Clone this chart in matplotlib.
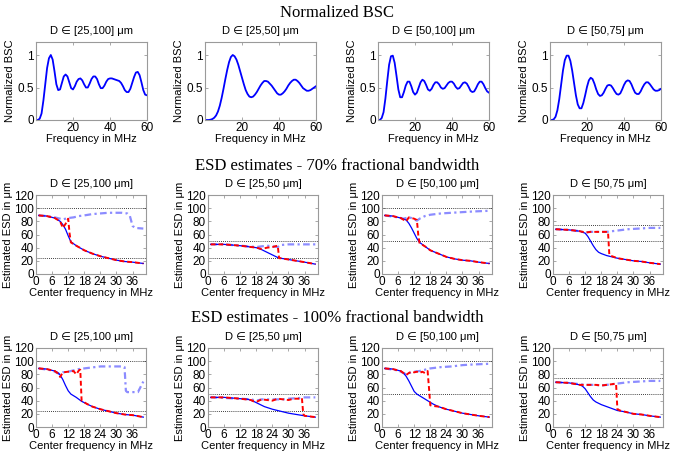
import matplotlib
matplotlib.use("Agg")
import matplotlib.pyplot as plt
import numpy as np

plt.rcParams['font.family'] = ['Liberation Sans', 'DejaVu Sans']
plt.rcParams['font.size'] = 8

# ---- Row 1: normalized BSC, 1 MHz steps ----
freq = list(range(0, 61))
bsc_25_100 = [0, 0, 0.02, 0.1, 0.3, 0.55, 0.8, 0.95, 1.0, 0.93, 0.75, 0.55, 0.46, 0.47, 0.57,
              0.67, 0.7, 0.67, 0.58, 0.49, 0.47, 0.52, 0.59, 0.63, 0.64, 0.61, 0.55, 0.5, 0.5,
              0.56, 0.63, 0.67, 0.67, 0.63, 0.55, 0.49, 0.49, 0.53, 0.59, 0.63, 0.64, 0.64, 0.63,
              0.62, 0.61, 0.6, 0.57, 0.52, 0.46, 0.43, 0.43, 0.48, 0.57, 0.66, 0.73, 0.74, 0.69,
              0.58, 0.46, 0.39, 0.38]
bsc_25_50 = [0, 0, 0, 0.005, 0.015, 0.035, 0.07, 0.13, 0.22, 0.34, 0.48, 0.63, 0.77, 0.89, 0.97,
             1.0, 0.98, 0.93, 0.85, 0.75, 0.65, 0.55, 0.46, 0.4, 0.36, 0.35, 0.36, 0.39, 0.43,
             0.48, 0.53, 0.57, 0.6, 0.6, 0.59, 0.56, 0.53, 0.49, 0.45, 0.41, 0.39, 0.39, 0.41,
             0.44, 0.48, 0.53, 0.57, 0.6, 0.62, 0.62, 0.6, 0.57, 0.53, 0.49, 0.47, 0.45, 0.45,
             0.46, 0.48, 0.5, 0.52]
bsc_50_100 = [0, 0, 0.03, 0.12, 0.33, 0.6, 0.85, 0.98, 0.99, 0.88, 0.68, 0.47, 0.35, 0.35, 0.43,
              0.53, 0.59, 0.59, 0.52, 0.43, 0.39, 0.42, 0.5, 0.58, 0.62, 0.6, 0.54, 0.47, 0.45,
              0.48, 0.54, 0.58, 0.58, 0.55, 0.5, 0.48, 0.49, 0.53, 0.57, 0.59, 0.59, 0.56, 0.51,
              0.48, 0.49, 0.53, 0.57, 0.58, 0.56, 0.51, 0.45, 0.43, 0.44, 0.49, 0.55, 0.59, 0.59,
              0.55, 0.49, 0.44, 0.42]
bsc_50_75 = [0, 0, 0.01, 0.05, 0.15, 0.32, 0.54, 0.76, 0.92, 0.99, 0.99, 0.91, 0.76, 0.57, 0.38,
             0.24, 0.18, 0.18, 0.26, 0.38, 0.51, 0.61, 0.65, 0.63, 0.56, 0.47, 0.4, 0.37, 0.38,
             0.42, 0.48, 0.53, 0.54, 0.53, 0.49, 0.44, 0.4, 0.39, 0.41, 0.47, 0.54, 0.59, 0.61,
             0.6, 0.55, 0.48, 0.42, 0.4, 0.4, 0.44, 0.5, 0.55, 0.58, 0.58, 0.55, 0.51, 0.47,
             0.45, 0.45, 0.46, 0.48]
bsc_curves = [bsc_25_100, bsc_25_50, bsc_50_100, bsc_50_75]
bsc_titles = ["D \u2208 [25,100] \u03bcm", "D \u2208 [25,50] \u03bcm",
              "D \u2208 [50,100] \u03bcm", "D \u2208 [50,75] \u03bcm"]

# ---- ESD panels ----
esd_titles = ["D \u2208 [25,100 \u03bcm]", "D \u2208 [25,50 \u03bcm]",
              "D \u2208 [50,100 \u03bcm]", "D \u2208 [50,75 \u03bcm]"]
true_bounds = [(25, 100), (25, 50), (50, 100), (50, 75)]

# 70% fractional bandwidth
b70_x = [[1, 4, 7, 9, 10, 11, 12, 13, 15, 18, 21, 24, 27, 30, 33, 36, 40],
         [1, 6, 12, 16, 18, 20, 22, 24, 26, 27, 30, 33, 36, 40],
         [1, 4, 7, 9, 10, 11, 12, 13, 14, 16, 18, 21, 24, 27, 30, 33, 36, 40],
         [1, 6, 10, 12, 13, 14, 15, 16, 17, 18, 20, 22, 24, 27, 30, 33, 36, 40]]
b70_y = [[89, 88, 85, 80, 75, 68, 58, 49, 43, 36, 31, 27, 24, 21, 19, 18, 16],
         [45, 45, 43, 41, 40, 37, 33, 29, 25, 24, 22, 20, 18, 15],
         [89, 88, 85, 82, 77, 70, 62, 54, 48, 42, 36, 31, 26, 23, 21, 20, 18, 16],
         [68, 67, 65, 62, 57, 50, 43, 37, 33, 31, 28, 26, 24, 22, 20, 19, 17, 15]]
p70_x = [[1, 4, 7, 9, 10, 11, 12, 14, 16, 18, 21, 24, 27, 30, 32, 34, 35, 36, 37, 40],
         [1, 6, 12, 18, 20, 22, 24, 26, 27, 30, 36, 40],
         [1, 6, 8, 9, 10, 11, 12, 13, 14, 16, 18, 22, 26, 30, 34, 40],
         [1, 6, 10, 12, 14, 16, 18, 20, 22, 24, 28, 32, 36, 40]]
p70_y = [[89, 88, 86, 84, 83, 84, 85, 86, 88, 89, 91, 92, 93, 93, 93, 92, 88, 73, 70, 69],
         [45, 45, 43, 41, 42, 43, 42, 41, 44, 45, 45, 45],
         [89, 86, 84, 85, 86, 85, 83, 81, 84, 88, 90, 92, 93, 94, 95, 96],
         [68, 67, 65, 63, 64, 64, 64, 64, 65, 66, 68, 69, 70, 70]]
r70_x = [[1, 4, 7, 9, 10, 11, 12, 12.5, 13, 15, 18, 21, 24, 27, 30, 33, 36, 40],
         [1, 6, 12, 16, 18, 20, 22, 24, 26, 26.5, 27, 30, 33, 36, 40],
         [1, 4, 7, 9, 10, 11, 12, 13, 13.5, 14, 16, 18, 21, 24, 27, 30, 33, 36, 40],
         [1, 6, 10, 12, 14, 16, 18, 20, 20.5, 21, 22, 24, 27, 30, 33, 36, 40]]
r70_y = [[89, 88, 85, 80, 70, 76, 84, 62, 48, 43, 36, 31, 27, 24, 21, 19, 18, 16],
         [45, 45, 43, 41, 40, 38, 40, 41, 43, 24, 24, 22, 20, 18, 15],
         [89, 88, 85, 80, 86, 85, 84, 82, 60, 47, 42, 36, 31, 26, 23, 21, 20, 18, 16],
         [68, 67, 65, 63, 64, 64, 64, 64, 64, 29, 27, 24, 22, 20, 19, 17, 15]]

# 100% fractional bandwidth
b100_x = [[1, 4, 7, 8, 9, 10, 11, 12, 13, 15, 17, 19, 21, 24, 27, 30, 33, 36, 40],
          [1, 6, 12, 15, 17, 19, 21, 24, 27, 30, 33, 36, 40],
          [1, 4, 7, 8, 9, 10, 11, 12, 13, 15, 17, 19, 21, 24, 27, 30, 33, 36, 40],
          [1, 6, 10, 11, 12, 13, 14, 15, 16, 18, 20, 22, 24, 27, 30, 33, 36, 40]]
b100_y = [[89, 88, 85, 83, 79, 72, 63, 55, 50, 45, 39, 35, 31, 27, 24, 21, 19, 18, 15],
          [45, 45, 43, 42, 39, 35, 31, 27, 24, 21, 19, 17, 15],
          [89, 88, 85, 82, 77, 70, 62, 54, 50, 45, 40, 35, 31, 27, 24, 21, 19, 17, 15],
          [68, 67, 64, 62, 58, 52, 46, 41, 38, 34, 31, 28, 25, 23, 20, 19, 17, 15]]
p100_x = [[1, 6, 8, 9, 10, 12, 14, 16, 20, 24, 28, 32, 33, 33.5, 34, 38, 40],
          [1, 12, 16, 18, 20, 24, 28, 30, 34, 36, 40],
          [1, 6, 8, 9, 10, 12, 14, 16, 18, 22, 26, 30, 34, 40],
          [1, 6, 10, 12, 14, 16, 18, 20, 22, 24, 28, 32, 36, 40]]
p100_y = [[89, 86, 82, 80, 83, 84, 86, 88, 90, 92, 92, 92, 91, 55, 53, 53, 69],
          [45, 43, 42, 40, 42, 42, 42, 43, 44, 45, 45],
          [89, 86, 82, 80, 82, 84, 85, 87, 89, 91, 92, 94, 95, 96],
          [68, 67, 65, 64, 64, 64, 63, 64, 65, 66, 68, 69, 70, 70]]
r100_x = [[1, 4, 7, 8, 9, 10, 12, 14, 15, 16, 16.5, 17, 19, 21, 24, 27, 30, 33, 36, 40],
          [1, 6, 12, 16, 17, 18, 19, 20, 22, 24, 26, 28, 30, 32, 34, 35, 35.5, 36, 40],
          [1, 4, 7, 8, 9, 10, 11, 12, 13, 14, 15, 16, 17, 17.5, 18, 19, 21, 24, 27, 30, 33, 36, 40],
          [1, 6, 10, 12, 16, 18, 20, 22, 23.5, 24, 25, 27, 30, 33, 36, 40]]
r100_y = [[89, 88, 85, 82, 76, 83, 84, 85, 80, 86, 87, 40, 35, 31, 27, 24, 21, 19, 18, 15],
          [45, 45, 43, 41, 39, 38, 40, 42, 41, 40, 43, 42, 41, 43, 43, 44, 20, 17, 15],
          [89, 88, 85, 82, 79, 82, 84, 83, 84, 82, 84, 82, 85, 60, 33, 32, 31, 27, 24, 21, 19, 17, 15],
          [68, 67, 64, 64, 64, 63, 64, 65, 66, 27, 25, 23, 20, 19, 17, 15]]

W, H = 675, 453
fig = plt.figure(figsize=(W / 100, H / 100), dpi=100)

BOX = '#9a9a9a'
PURPLE = '#8c8cff'


def style_axes(ax):
    for s in ax.spines.values():
        s.set_color(BOX)
        s.set_linewidth(0.8)
    ax.tick_params(direction='in', length=2.5, width=0.6, color=BOX,
                   labelsize=8.5, pad=1.5, top=True, right=True)


def pos(left, top, w=110, h=78):
    return [left / W, 1 - (top + h) / H, w / W, h / H]


fig.text(0.5, 1 - 13 / H, "Normalized BSC", ha='center', va='center',
         family='Liberation Serif', fontsize=12)
fig.text(0.5, 1 - 166 / H, "ESD estimates - 70% fractional bandwidth", ha='center',
         va='center', family='Liberation Serif', fontsize=12)
fig.text(0.5, 1 - 318 / H, "ESD estimates - 100% fractional bandwidth", ha='center',
         va='center', family='Liberation Serif', fontsize=12)

# row 1
lefts1 = [36, 205, 378, 550]
for i in range(4):
    ax = fig.add_axes(pos(lefts1[i], 42, 111, 78))
    ax.plot(freq, bsc_curves[i], color='#0000ff', lw=1.3)
    ax.set_xlim(0, 60)
    ax.set_ylim(0, 1.2)
    ax.set_xticks([20, 40, 60])
    ax.set_yticks([0, 0.5, 1])
    ax.set_yticklabels(['0', '0.5', '1'])
    ax.set_title(bsc_titles[i], fontsize=8, pad=6)
    ax.set_xlabel("Frequency in MHz", labelpad=0)
    ax.set_ylabel("Normalized BSC", labelpad=2)
    style_axes(ax)

# rows 2 and 3
lefts2 = [36, 208, 382, 553]
rows = [(195, b70_x, b70_y, p70_x, p70_y, r70_x, r70_y),
        (348, b100_x, b100_y, p100_x, p100_y, r100_x, r100_y)]
for top, bx, by, px, py, rx, ry in rows:
    for i in range(4):
        ax = fig.add_axes(pos(lefts2[i], top, 110, 79))
        lo, hi = true_bounds[i]
        ax.axhline(lo, color='k', ls=(0, (1, 1.5)), lw=0.6)
        ax.axhline(hi, color='k', ls=(0, (1, 1.5)), lw=0.6)
        ax.plot(px[i], py[i], color=PURPLE, lw=1.6, ls=(0, (3, 1.5, 1, 1.5)))
        ax.plot(bx[i], by[i], color='#0000ff', lw=0.9)
        ax.plot(rx[i], ry[i], color='#ff0000', lw=1.4, ls=(0, (2.5, 1.5)))
        ax.set_xlim(0, 41)
        ax.set_ylim(0, 120)
        ax.set_xticks(range(0, 37, 6))
        ax.set_yticks(range(0, 121, 20))
        ax.set_title(esd_titles[i], fontsize=8, pad=6)
        ax.set_xlabel("Center frequency in MHz", labelpad=0)
        ax.set_ylabel("Estimated ESD in \u03bcm", labelpad=1)
        style_axes(ax)

fig.savefig("out.png", dpi=100)
